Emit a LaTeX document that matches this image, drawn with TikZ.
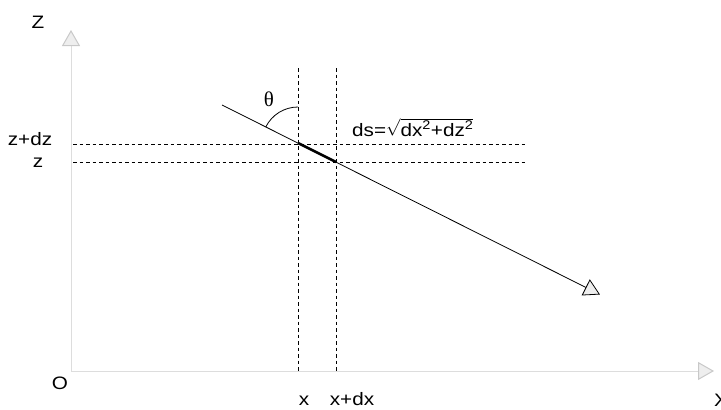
\documentclass[tikz,border=0pt]{standalone}
\usepackage{amsmath}
\usepackage{fontspec}
\setmainfont{Liberation Sans}[FakeStretch=1.15]
\newfontfamily\greekfont{Liberation Serif}
\usetikzlibrary{arrows.meta}
\definecolor{AxisGray}{RGB}{221,221,221}
\definecolor{TipGray}{RGB}{200,200,200}
\definecolor{TipFill}{RGB}{238,238,238}

\begin{document}
\begin{tikzpicture}[x=1pt,y=-1pt,font=\fontsize{18}{21}\selectfont,
  axis/.style={draw=AxisGray,line width=1pt,-{Triangle[open,length=16pt,width=18pt,color=TipGray,fill=TipFill]}},
  grid/.style={dash pattern=on 3.5pt off 3pt,line width=0.8pt},
  ray/.style={line width=0.8pt,-{Triangle[open,length=16pt,width=18pt,fill=TipFill]}}]
\useasboundingbox (0,0) rectangle (721,410);
\coordinate (O) at (71,371);
\coordinate (ztip) at (71,30);
\coordinate (xtip) at (714,371);
\coordinate (s0) at (222,105);
\coordinate (p1) at (298,143);
\coordinate (p2) at (336,162);
\coordinate (rtip) at (600,294.5);
\coordinate (v1top) at (298,68);
\coordinate (v1bot) at (298,371);
\coordinate (v2top) at (336,68);
\coordinate (v2bot) at (336,371);
\coordinate (h1l) at (73,144);
\coordinate (h1r) at (525,144);
\coordinate (h2l) at (73,162);
\coordinate (h2r) at (525,162);
\draw[axis] (O)--(ztip);
\draw[axis] (O)--(xtip);
\draw[grid] (v1top)--(v1bot);
\draw[grid] (v2top)--(v2bot);
\draw[grid] (h1l)--(h1r);
\draw[grid] (h2l)--(h2r);
\draw[ray] (s0)--(rtip);
\draw[line width=2.6pt] (p1)--(p2);
\draw[line width=0.8pt] (p1) ++(153.43:36pt) arc[start angle=153.43,end angle=90,radius=36pt];
\node[anchor=base] (zlab) at (38,28) {Z};
\node[anchor=base west,inner sep=1pt] (xlab) at (713,406) {X};
\node[anchor=base] (olab) at (60,389) {O};
\node[anchor=base] (zdzlab) at (30,145) {z+dz};
\node[anchor=base] (zval) at (38,167) {z};
\node[anchor=base,inner sep=1pt] (xval) at (304,405) {x};
\node[anchor=base,inner sep=1pt] (xdxlab) at (352,405) {x+dx};
\node (th) at (269,99) {\greekfont\fontsize{21}{24}\selectfont θ};
\node[anchor=base west,inner sep=0pt] (ds) at (352,136) {ds=$\sqrt{\text{dx\textsuperscript{2}+dz\textsuperscript{2}}}$};
\end{tikzpicture}
\end{document}
